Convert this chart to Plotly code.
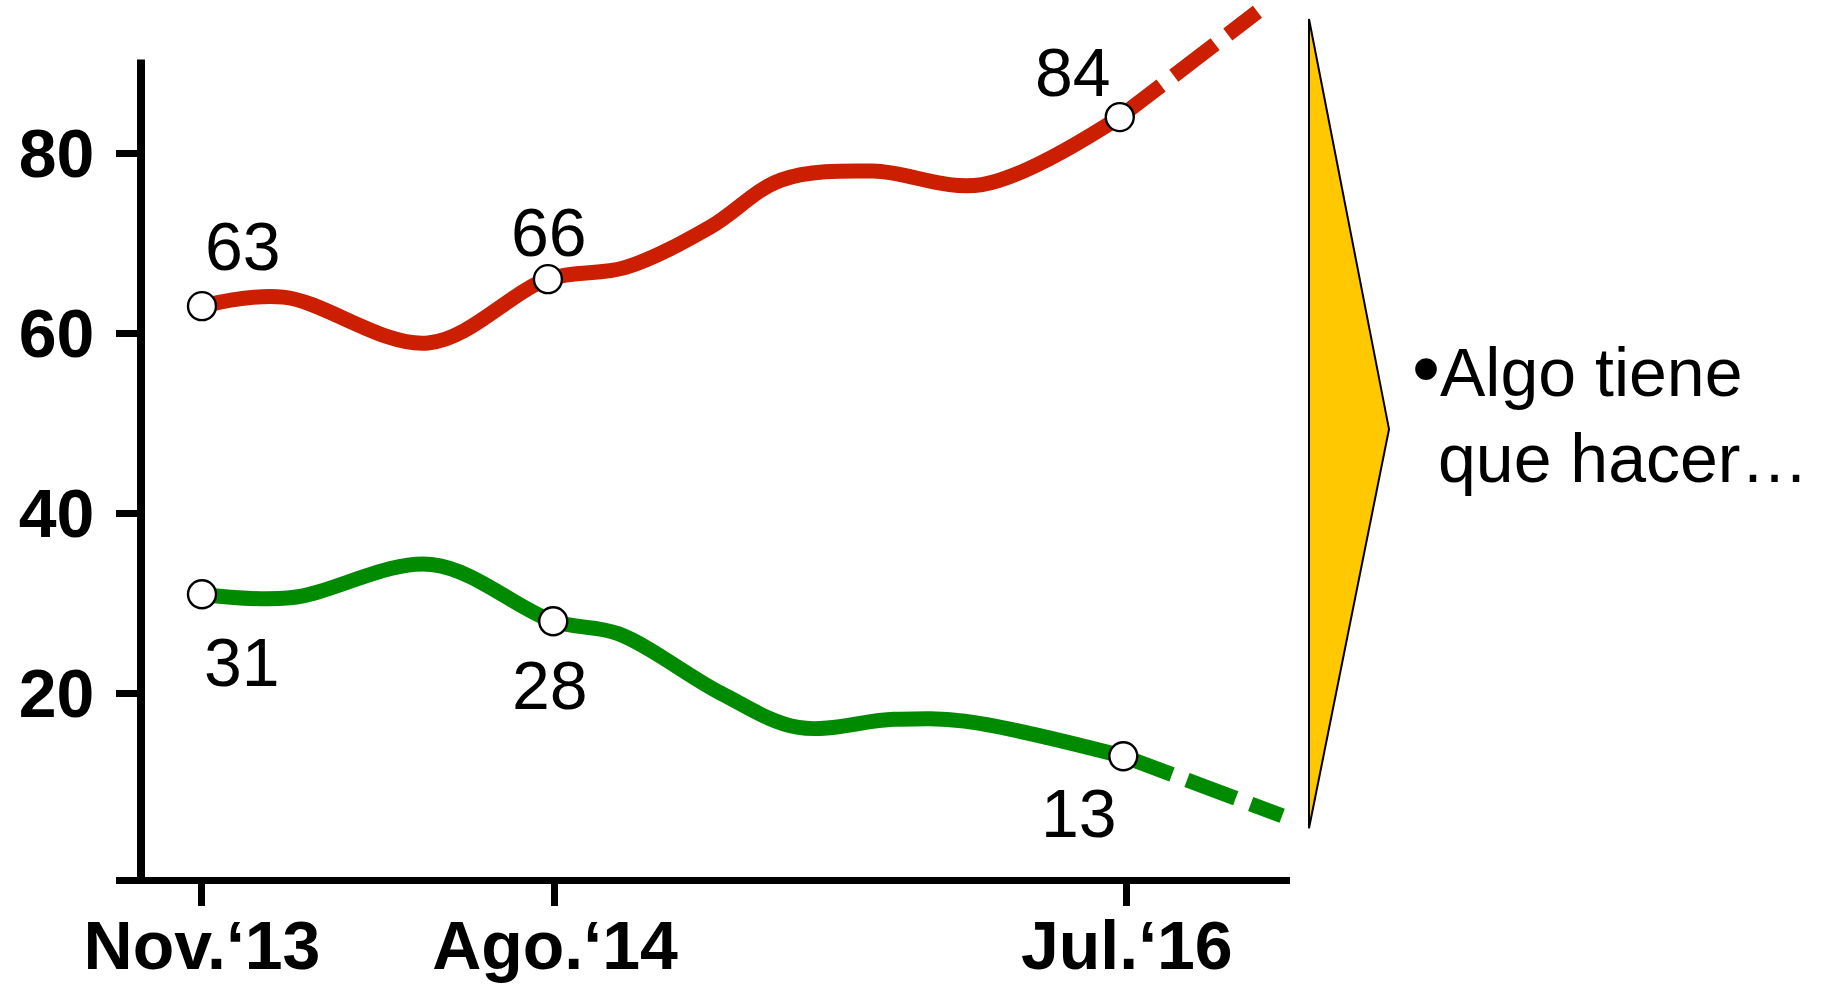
import plotly.graph_objects as go

# ---- data ----
tick_pos = [0, 1, 2.62]
tick_text = ["Nov.\u201813", "Ago.\u201814", "Jul.\u201816"]

red_survey_x = [0, 0.98, 2.60]
red_survey = [63, 66, 84]
green_survey_x = [0, 0.995, 2.61]
green_survey = [31, 28, 13]

# smoothed curve between surveys (intermediate readings)
red_x = [0, 0.23, 0.64, 0.98, 1.20, 1.44, 1.64, 1.90, 2.21, 2.60]
red_y = [63, 64.0, 58.9, 66, 67.3, 71.8, 77.0, 78.0, 76.5, 84]
green_x = [0, 0.25, 0.65, 0.995, 1.18, 1.47, 1.69, 1.96, 2.16, 2.61]
green_y = [31, 30.6, 34.3, 28, 26.6, 20.0, 16.2, 17.1, 16.9, 13]

# projected trend
red_proj_x = [2.60, 2.99]
red_proj_y = [84, 95.7]
green_proj_x = [2.61, 3.06]
green_proj_y = [13, 6.4]

y_ticks = [20, 40, 60, 80]
note_bullet = "\u2022"
note_line1 = "Algo tiene"
note_line2 = "que hacer\u2026"

RED = "#CC1E00"
GREEN = "#008A00"
YELLOW = "#FFC800"
FONT = "Liberation Sans, Arial, sans-serif"

fig = go.Figure()

fig.add_trace(go.Scatter(x=red_x, y=red_y, mode="lines",
                         line=dict(color=RED, width=15, shape="spline", smoothing=1.0),
                         hoverinfo="skip"))
fig.add_trace(go.Scatter(x=green_x, y=green_y, mode="lines",
                         line=dict(color=GREEN, width=15, shape="spline", smoothing=1.0),
                         hoverinfo="skip"))
fig.add_trace(go.Scatter(x=red_proj_x, y=red_proj_y, mode="lines",
                         line=dict(color=RED, width=15, dash="52px,16px"),
                         hoverinfo="skip"))
fig.add_trace(go.Scatter(x=green_proj_x, y=green_proj_y, mode="lines",
                         line=dict(color=GREEN, width=15, dash="52px,16px"),
                         hoverinfo="skip"))
for xs, vals in ((red_survey_x, red_survey), (green_survey_x, green_survey)):
    fig.add_trace(go.Scatter(x=xs, y=vals, mode="markers",
                             marker=dict(symbol="circle", size=28, color="white",
                                         line=dict(color="black", width=2.4)),
                             hoverinfo="skip"))

# value labels
red_off = [(41, 60), (1, 47), (-47, 45)]
green_off = [(40, -68), (-3, -64), (-44, -57)]
for xs, vals, offs in ((red_survey_x, red_survey, red_off),
                       (green_survey_x, green_survey, green_off)):
    for xv, yv, (dx, dy) in zip(xs, vals, offs):
        fig.add_annotation(x=xv, y=yv, xref="x", yref="y", text=str(yv), showarrow=False,
                           xanchor="center", yanchor="middle", xshift=dx, yshift=dy,
                           font=dict(family=FONT, size=68, color="black"))

# note text
fig.add_annotation(x=1.1025, y=0.5836, xref="paper", yref="paper",
                   text="<span style='font-size:80px'>" + note_bullet + "</span>" + note_line1,
                   showarrow=False, xanchor="left", yanchor="middle",
                   font=dict(family=FONT, size=68, color="black"))
fig.add_annotation(x=1.1245, y=0.4808, xref="paper", yref="paper", text=note_line2,
                   showarrow=False, xanchor="left", yanchor="middle",
                   font=dict(family=FONT, size=68, color="black"))

# yellow arrow-head
fig.add_shape(type="path", xref="paper", yref="paper",
              path="M 1.01618,0.98394 L 1.08433,0.51360 L 1.01618,0.05587 Z",
              fillcolor=YELLOW, line=dict(color="black", width=2), layer="above")

# y axis line (shorter than the plot area)
fig.add_shape(type="line", xref="paper", yref="y", x0=0.0213, x1=0.0213, y0=-0.8, y1=90.4,
              line=dict(color="black", width=8), layer="above")

fig.update_layout(
    width=1829, height=984,
    margin=dict(l=116, r=539, t=5, b=107, autoexpand=False),
    paper_bgcolor="white", plot_bgcolor="white",
    showlegend=False,
    xaxis=dict(range=[-0.2436, 3.0822], showgrid=False, zeroline=False,
               showline=True, linecolor="black", linewidth=7,
               ticks="outside", ticklen=22, tickwidth=7, tickcolor="black",
               tickvals=tick_pos, ticktext=tick_text, ticklabelstandoff=-19,
               tickfont=dict(family=FONT, size=68, color="black", weight="bold"),
               fixedrange=True),
    yaxis=dict(range=[-0.41, 96.45], showgrid=False, zeroline=False, showline=False,
               anchor="free", position=0.0213, side="left",
               ticks="outside", ticklen=25, tickwidth=7, tickcolor="black",
               tickvals=y_ticks, ticktext=[str(v) for v in y_ticks],
               ticklabelstandoff=8,
               tickfont=dict(family=FONT, size=68, color="black", weight="bold"),
               fixedrange=True),
)

fig.write_html("out.html", config={"displayModeBar": False},
               post_script="document.body.style.margin='0px';")
